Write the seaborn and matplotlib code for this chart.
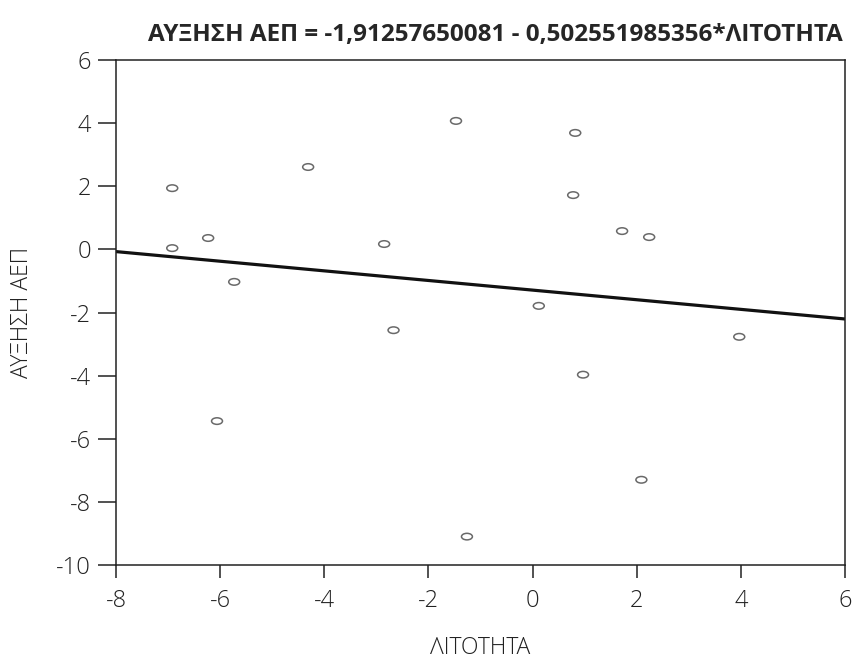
import matplotlib
matplotlib.use('Agg')
import matplotlib.pyplot as plt
from matplotlib.path import Path
from matplotlib.transforms import Affine2D
import pandas as pd
import seaborn as sns

# Values
litotita = [-6.92, -6.92, -6.23, -5.73, -6.06, -4.31, -2.85, -2.67, -1.47,
            -1.26, 0.12, 0.78, 0.82, 0.97, 1.72, 2.24, 2.09, 3.97]
afxisi_aep = [1.94, 0.04, 0.36, -1.03, -5.44, 2.61, 0.17, -2.56, 4.07,
              -9.10, -1.79, 1.72, 3.69, -3.97, 0.58, 0.39, -7.30, -2.77]
x_ticks = [-8, -6, -4, -2, 0, 2, 4, 6]
y_ticks = [-10, -8, -6, -4, -2, 0, 2, 4, 6]

title = 'ΑΥΞΗΣΗ ΑΕΠ = -1,91257650081 - 0,502551985356*ΛΙΤΟΤΗΤΑ'

df = pd.DataFrame({'ΛΙΤΟΤΗΤΑ': litotita, 'ΑΥΞΗΣΗ ΑΕΠ': afxisi_aep})

sns.set_style('ticks')
plt.rcParams['font.family'] = ['Open Sans', 'DejaVu Sans']
plt.rcParams['axes.unicode_minus'] = False

# flat open ellipse marker
ellipse = Path.unit_circle().transformed(Affine2D().scale(1, 0.6))

fig = plt.figure(figsize=(8.58, 6.63), dpi=100)
ax = fig.add_axes([0.1352, 0.1478, 0.8496, 0.7617])
ax.set_xlim(-8, 6)
ax.set_ylim(-10, 6)

sns.regplot(data=df, x='ΛΙΤΟΤΗΤΑ', y='ΑΥΞΗΣΗ ΑΕΠ', ax=ax, ci=None,
            truncate=False, marker=ellipse,
            scatter_kws={'s': 62, 'facecolors': 'none',
                         'edgecolors': '#444444', 'linewidths': 1.1},
            line_kws={'color': '#111111', 'linewidth': 2.3})

ax.set_xlim(-8, 6)
ax.set_ylim(-10, 6)
ax.set_xticks(x_ticks)
ax.set_yticks(y_ticks)
ax.tick_params(direction='out', width=1.1, labelsize=17,
               colors='#222222', pad=5)
ax.tick_params(axis='y', length=13)
ax.tick_params(axis='x', length=9, pad=8)
for lab in ax.get_xticklabels() + ax.get_yticklabels():
    lab.set_fontweight('light')

for side in ['left', 'right', 'top', 'bottom']:
    ax.spines[side].set_visible(True)
    ax.spines[side].set_color('#222222')
    ax.spines[side].set_linewidth(1.1)

ax.set_xlabel('ΛΙΤΟΤΗΤΑ', fontsize=16.5, fontweight='light', labelpad=17,
              color='#222222')
ax.set_ylabel('ΑΥΞΗΣΗ ΑΕΠ', fontsize=16.5, fontweight='light', labelpad=16,
              color='#222222')
ax.set_title(title, fontsize=17.5, fontweight='bold', pad=14, x=0.52)

fig.savefig('out.png', dpi=100)
